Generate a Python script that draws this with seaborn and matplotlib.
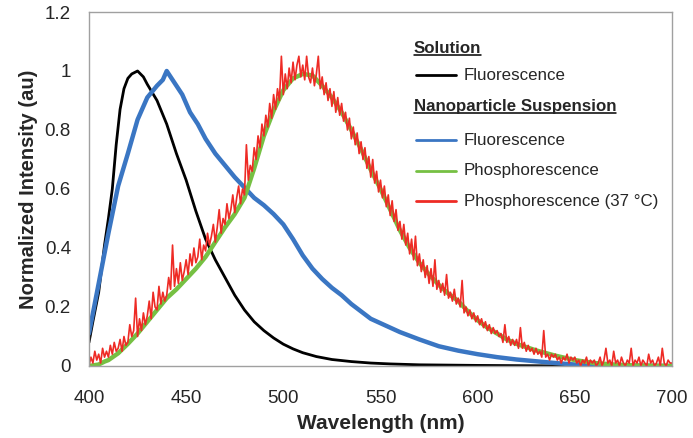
import numpy as np
import pandas as pd
import matplotlib
matplotlib.use("Agg")
import matplotlib.pyplot as plt
import seaborn as sns
from matplotlib.lines import Line2D

# --- data (wavelength in nm, normalized intensity) ---
sol_fl_x = [400, 402, 405, 408, 410, 412, 414, 416, 418, 420, 422, 425, 428, 430, 435, 440,
            445, 450, 455, 460, 465, 470, 475, 480, 485, 490, 495, 500, 505, 510, 517, 525,
            535, 545, 555, 570, 600, 650, 700]
sol_fl_y = [0.08, 0.15, 0.25, 0.41, 0.5, 0.6, 0.75, 0.87, 0.94, 0.975, 0.99, 1.0, 0.98, 0.955, 0.9, 0.82,
            0.72, 0.63, 0.525, 0.43, 0.36, 0.3, 0.24, 0.19, 0.15, 0.12, 0.095, 0.074, 0.058, 0.045, 0.032, 0.022,
            0.015, 0.01, 0.007, 0.004, 0.002, 0.0, 0.0]

np_fl_x = [400, 405, 410, 415, 420, 425, 430, 435, 438, 440, 444, 448, 452, 456, 460, 465,
           470, 475, 480, 485, 490, 495, 500, 505, 510, 515, 520, 525, 530, 535, 540, 545,
           550, 555, 560, 570, 580, 590, 600, 610, 620, 630, 640, 650, 660, 700]
np_fl_y = [0.11, 0.28, 0.45, 0.61, 0.72, 0.835, 0.91, 0.95, 0.97, 1.0, 0.96, 0.92, 0.86, 0.82, 0.77, 0.72,
           0.68, 0.64, 0.605, 0.57, 0.545, 0.515, 0.48, 0.43, 0.375, 0.33, 0.295, 0.265, 0.24, 0.21, 0.185, 0.16,
           0.145, 0.13, 0.115, 0.09, 0.067, 0.052, 0.04, 0.03, 0.022, 0.016, 0.01, 0.005, 0.002, 0.0]

np_ph_x = [400, 405, 408, 410, 415, 420, 425, 430, 435, 440, 445, 450, 455, 460, 465, 470,
           475, 480, 485, 490, 495, 500, 505, 510, 515, 520, 525, 530, 535, 540, 545, 550,
           555, 560, 565, 570, 575, 580, 585, 590, 595, 600, 605, 610, 615, 620, 630, 640,
           650, 660, 670, 680, 700]
np_ph_y = [0.0, 0.005, 0.015, 0.02, 0.043, 0.075, 0.11, 0.15, 0.19, 0.23, 0.26, 0.295, 0.33, 0.37, 0.42, 0.47,
           0.515, 0.57, 0.67, 0.78, 0.865, 0.935, 0.975, 0.99, 0.985, 0.95, 0.91, 0.86, 0.8, 0.735, 0.665, 0.6,
           0.53, 0.46, 0.4, 0.35, 0.31, 0.275, 0.245, 0.22, 0.185, 0.155, 0.13, 0.11, 0.09, 0.075, 0.053, 0.035,
           0.02, 0.01, 0.005, 0.002, 0.0]

# 37 C phosphorescence, one reading per nm from 400 to 700 (noisy trace)
np_ph37_x = list(range(400, 701))
np_ph37_y = [
    0.00, 0.03, 0.01, 0.05, 0.02, 0.04, 0.01, 0.06, 0.03, 0.05,   # 400
    0.03, 0.07, 0.04, 0.08, 0.05, 0.06, 0.09, 0.05, 0.10, 0.07,   # 410
    0.08, 0.14, 0.10, 0.12, 0.23, 0.10, 0.16, 0.12, 0.18, 0.14,   # 420
    0.17, 0.22, 0.16, 0.25, 0.20, 0.19, 0.27, 0.21, 0.25, 0.22,   # 430
    0.24, 0.30, 0.26, 0.41, 0.27, 0.33, 0.28, 0.35, 0.29, 0.32,   # 440
    0.36, 0.31, 0.38, 0.34, 0.40, 0.35, 0.37, 0.43, 0.36, 0.41,   # 450
    0.39, 0.45, 0.41, 0.44, 0.48, 0.42, 0.47, 0.53, 0.45, 0.50,   # 460
    0.48, 0.55, 0.50, 0.53, 0.58, 0.52, 0.57, 0.61, 0.55, 0.60,   # 470
    0.58, 0.75, 0.63, 0.68, 0.66, 0.74, 0.70, 0.78, 0.74, 0.82,   # 480
    0.78, 0.85, 0.81, 0.89, 0.84, 0.92, 0.87, 0.94, 0.90, 1.05,   # 490
    0.92, 0.99, 0.94, 1.01, 0.96, 1.03, 0.97, 1.02, 1.05, 0.98,   # 500
    1.02, 0.97, 1.05, 0.98, 0.96, 1.01, 0.95, 0.99, 1.05, 0.94,   # 510
    0.98, 0.92, 0.96, 0.90, 0.94, 0.88, 0.93, 0.86, 0.91, 0.85,   # 520
    0.89, 0.83, 0.86, 0.80, 0.84, 0.77, 0.81, 0.75, 0.79, 0.72,   # 530
    0.76, 0.70, 0.74, 0.67, 0.71, 0.64, 0.70, 0.62, 0.66, 0.59,   # 540
    0.63, 0.57, 0.61, 0.54, 0.58, 0.51, 0.56, 0.49, 0.53, 0.46,   # 550
    0.49, 0.43, 0.48, 0.41, 0.45, 0.38, 0.43, 0.36, 0.44, 0.34,   # 560
    0.38, 0.32, 0.36, 0.30, 0.34, 0.28, 0.33, 0.27, 0.36, 0.26,   # 570
    0.29, 0.25, 0.28, 0.24, 0.31, 0.23, 0.25, 0.22, 0.26, 0.21,   # 580
    0.23, 0.20, 0.29, 0.18, 0.20, 0.17, 0.19, 0.16, 0.18, 0.15,   # 590
    0.17, 0.14, 0.16, 0.13, 0.15, 0.12, 0.14, 0.11, 0.13, 0.11,   # 600
    0.12, 0.10, 0.11, 0.08, 0.14, 0.08, 0.10, 0.07, 0.09, 0.07,   # 610
    0.09, 0.06, 0.13, 0.06, 0.08, 0.05, 0.07, 0.05, 0.06, 0.04,   # 620
    0.06, 0.04, 0.05, 0.03, 0.12, 0.03, 0.04, 0.02, 0.04, 0.03,   # 630
    0.04, 0.02, 0.03, 0.01, 0.03, 0.02, 0.04, 0.01, 0.03, 0.02,   # 640
    0.03, 0.01, 0.02, 0.00, 0.02, 0.01, 0.03, 0.00, 0.02, 0.01,   # 650
    0.02, 0.00, 0.01, 0.03, 0.00, 0.02, 0.06, 0.01, 0.02, 0.00,   # 660
    0.05, 0.01, 0.02, 0.00, 0.03, 0.01, 0.00, 0.02, 0.01, 0.06,   # 670
    0.00, 0.02, 0.01, 0.03, 0.00, 0.02, 0.01, 0.00, 0.04, 0.01,   # 680
    0.02, 0.00, 0.01, 0.03, 0.00, 0.06, 0.01, 0.00, 0.02, 0.01,   # 690
    0.01,                                                         # 700
]

series = [
    ("Fluorescence", sol_fl_x, sol_fl_y, "#000000", 2.0),
    ("Fluorescence", np_fl_x, np_fl_y, "#3a76c3", 3.2),
    ("Phosphorescence", np_ph_x, np_ph_y, "#76c043", 3.2),
    ("Phosphorescence (37 \u00b0C)", np_ph37_x, np_ph37_y, "#ee2b25", 1.2),
]

sns.set_style("white")
plt.rcParams["font.family"] = ["Liberation Sans", "DejaVu Sans"]

fig = plt.figure(figsize=(6.93, 4.38), dpi=100)
ax = fig.add_axes([0.1284, 0.1644, 0.8413, 0.8082])

for name, xs, ys, col, lw in series:
    sns.lineplot(x=xs, y=ys, ax=ax, color=col, linewidth=lw, legend=False)

ax.set_xlim(400, 700)
ax.set_ylim(0, 1.2)
ax.set_xticks([400, 450, 500, 550, 600, 650, 700])
ax.set_yticks([0, 0.2, 0.4, 0.6, 0.8, 1.0, 1.2])
ax.set_yticklabels(["0", "0.2", "0.4", "0.6", "0.8", "1", "1.2"])
ax.tick_params(axis="both", labelsize=13.5, direction="out", length=5, width=1,
               color="#a0a0a0")
ax.tick_params(axis="x", pad=12)
ax.tick_params(axis="y", pad=8)
for s in ax.spines.values():
    s.set_color("#a0a0a0")
    s.set_linewidth(1.0)

ax.set_xlabel("Wavelength (nm)", fontsize=15, fontweight="bold", labelpad=5)
ax.set_ylabel("Normalized Intensity (au)", fontsize=14.5, fontweight="bold", labelpad=5)

# hand-built legend with underlined group headers
lx0, lx1, tx = 0.561, 0.6295, 0.643
headers = [("Solution", 0.898), ("Nanoparticle Suspension", 0.732)]
entries = [(0.822, 0), (0.638, 1), (0.551, 2), (0.466, 3)]

fig.canvas.draw()
renderer = fig.canvas.get_renderer()
inv = ax.transAxes.inverted()
for txt, yy in headers:
    t = ax.text(lx0 - 0.004, yy, txt, transform=ax.transAxes, fontsize=12.2,
                fontweight="bold", va="center", ha="left")
    bb = t.get_window_extent(renderer=renderer)
    (x0, y0), (x1, y1) = inv.transform([[bb.x0, bb.y0], [bb.x1, bb.y1]])
    ax.add_line(Line2D([x0, x1], [y0 + 0.003, y0 + 0.003], transform=ax.transAxes,
                       color="black", linewidth=1.1))

for yy, i in entries:
    name, _, _, col, _ = series[i]
    ax.add_line(Line2D([lx0, lx1], [yy, yy], transform=ax.transAxes, color=col, linewidth=2.0))
    ax.text(tx, yy, name, transform=ax.transAxes, fontsize=12.2, va="center", ha="left")

fig.savefig("out.png", dpi=100)
